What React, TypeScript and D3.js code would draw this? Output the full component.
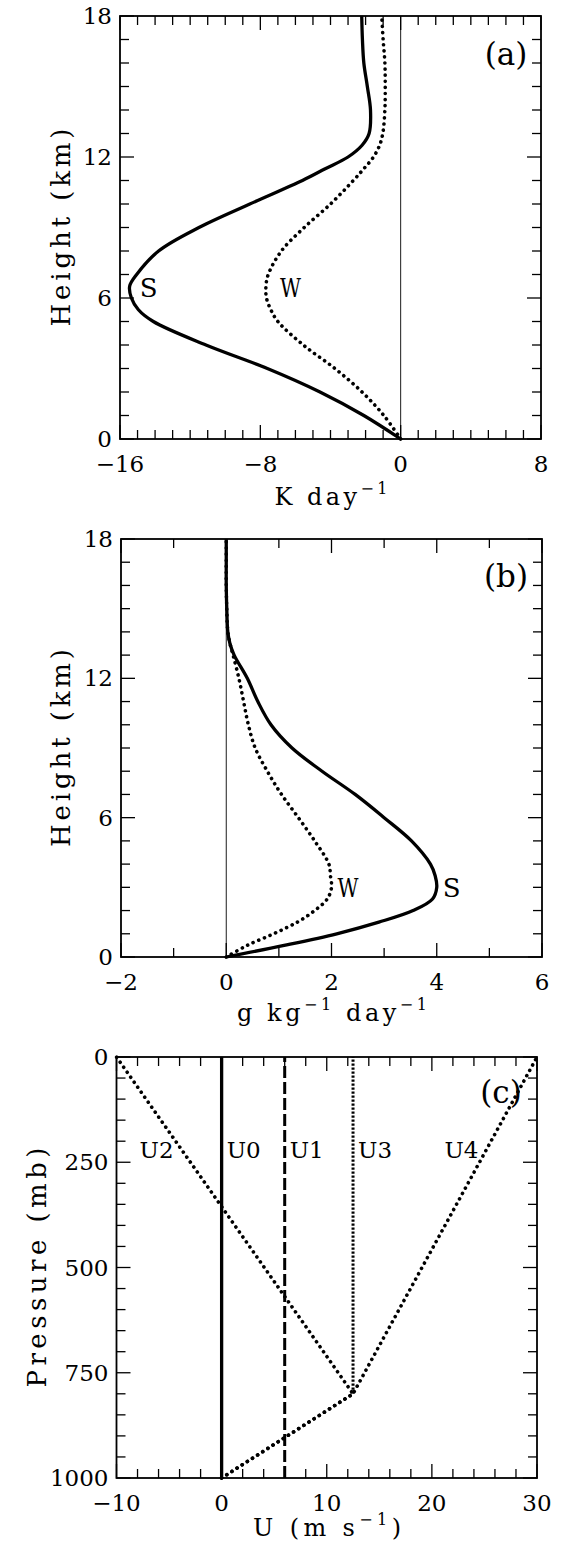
import React from 'react';
import * as d3 from 'd3';

const FONT = "'DejaVu Serif', 'Liberation Serif', serif";

// ---------- Panel (a): heating (K day^-1) vs height (km)
const heightsA = [0, 1, 2, 3, 4, 5, 5.5, 6, 6.5, 7, 8, 9, 10, 11, 11.5, 12, 12.5, 13, 14, 15, 16, 17, 18];
const heatingS = [0, -2.1, -4.6, -7.6, -11.1, -14.1, -14.95, -15.35, -15.45, -15.05, -13.8, -11.5, -8.6, -5.6, -4.3, -3.0, -2.2, -1.8, -1.72, -1.9, -2.1, -2.18, -2.22];
const heatingW = [0, -0.96, -2.2, -3.75, -5.55, -7.0, -7.4, -7.65, -7.68, -7.55, -6.8, -5.5, -4.0, -2.7, -2.1, -1.55, -1.2, -1.02, -0.9, -0.88, -0.9, -1.0, -1.08];

// ---------- Panel (b): moistening (g kg^-1 day^-1) vs height (km)
const heightsB = [0, 0.5, 1, 1.5, 2, 2.5, 3, 3.5, 4, 5, 6, 7, 8, 9, 10, 11, 12, 13, 13.5, 14, 15, 16, 17, 18];
const moistS = [0, 1.1, 2.1, 2.9, 3.55, 3.92, 4.0, 3.97, 3.88, 3.52, 3.0, 2.45, 1.82, 1.25, 0.85, 0.6, 0.4, 0.15, 0.07, 0.03, 0.01, 0, 0, 0];
const moistW = [0, 0.4, 0.9, 1.35, 1.68, 1.92, 2.0, 1.98, 1.95, 1.68, 1.37, 1.05, 0.78, 0.55, 0.42, 0.33, 0.24, 0.13, 0.07, 0.03, 0.01, 0, 0, 0];

// ---------- Panel (c): wind U (m s^-1) vs pressure (mb)
const pressureC = [0, 800, 1000];
const windU0 = [0, 0, 0];
const windU1 = [6, 6, 6];
const windU2 = [-10, 12.5, 0];
const windU3 = [12.5, 12.5, 0];
const windU4 = [30, 12.5, 0];

const ticksAx = [-16, -8, 0, 8];
const ticksAy = [0, 6, 12, 18];
const ticksBx = [-2, 0, 2, 4, 6];
const ticksBy = [0, 6, 12, 18];
const ticksCx = [-10, 0, 10, 20, 30];
const ticksCy = [0, 250, 500, 750, 1000];

type Frame = { l: number; r: number; t: number; b: number };

const fmt = (v: number) => (v < 0 ? '\u2212' + Math.abs(v) : String(v));

function isMajor(v: number, step: number) {
  return Math.abs(v / step - Math.round(v / step)) < 1e-6;
}

function Axes(props: {
  f: Frame;
  x: d3.ScaleLinear<number, number>;
  y: d3.ScaleLinear<number, number>;
  xMinor: number; xMajor: number; yMinor: number; yMajor: number;
  xLabels: number[]; yLabels: number[];
}) {
  const { f, x, y, xMinor, xMajor, yMinor, yMajor, xLabels, yLabels } = props;
  const [xd0, xd1] = x.domain();
  const [yd0, yd1] = y.domain();
  const xs = d3.range(Math.min(xd0, xd1), Math.max(xd0, xd1) + 1e-6, xMinor);
  const ys = d3.range(Math.min(yd0, yd1), Math.max(yd0, yd1) + 1e-6, yMinor);
  const minorL = 9, majorL = 14;
  const els: any[] = [];
  xs.forEach((v, i) => {
    const L = isMajor(v, xMajor) ? majorL : minorL;
    const px = x(v);
    els.push(<line key={'xb' + i} x1={px} x2={px} y1={f.b} y2={f.b - L} />);
    els.push(<line key={'xt' + i} x1={px} x2={px} y1={f.t} y2={f.t + L} />);
  });
  ys.forEach((v, i) => {
    const L = isMajor(v, yMajor) ? majorL : minorL;
    const py = y(v);
    els.push(<line key={'yl' + i} x1={f.l} x2={f.l + L} y1={py} y2={py} />);
    els.push(<line key={'yr' + i} x1={f.r} x2={f.r - L} y1={py} y2={py} />);
  });
  return (
    <g>
      <g stroke="#000" strokeWidth={1.3}>{els}</g>
      <rect x={f.l} y={f.t} width={f.r - f.l} height={f.b - f.t} fill="none" stroke="#000" strokeWidth={1.8} />
      <g fontFamily={FONT} fontSize={23} fill="#000">
        {xLabels.map((v) => (
          <text key={'xl' + v} x={x(v)} y={f.b + 33} textAnchor="middle">{fmt(v)}</text>
        ))}
        {yLabels.map((v) => (
          <text key={'ylb' + v} x={f.l - 8} y={y(v) + 8} textAnchor="end">{fmt(v)}</text>
        ))}
      </g>
    </g>
  );
}

function pairs(xs: number[], ys: number[]): [number, number][] {
  return xs.map((v, i) => [v, ys[i]] as [number, number]);
}

const dotted = { strokeWidth: 3.6, strokeDasharray: '0.1 6', strokeLinecap: 'round' as const };

export default function App() {
  // Panel frames
  const fA: Frame = { l: 120, r: 541, t: 16, b: 439 };
  const fB: Frame = { l: 121, r: 542, t: 539, b: 957 };
  const fC: Frame = { l: 116.5, r: 537, t: 1057, b: 1478 };

  const xA = d3.scaleLinear().domain([-16, 8]).range([fA.l, fA.r]);
  const yA = d3.scaleLinear().domain([0, 18]).range([fA.b, fA.t]);
  const xB = d3.scaleLinear().domain([-2, 6]).range([fB.l, fB.r]);
  const yB = d3.scaleLinear().domain([0, 18]).range([fB.b, fB.t]);
  const xC = d3.scaleLinear().domain([-10, 30]).range([fC.l, fC.r]);
  const yC = d3.scaleLinear().domain([0, 1000]).range([fC.t, fC.b]);

  const lineA = d3.line<[number, number]>().x((d) => xA(d[0])).y((d) => yA(d[1])).curve(d3.curveCatmullRom.alpha(0.5));
  const lineB = d3.line<[number, number]>().x((d) => xB(d[0])).y((d) => yB(d[1])).curve(d3.curveCatmullRom.alpha(0.5));
  const lineC = d3.line<[number, number]>().x((d) => xC(d[0])).y((d) => yC(d[1]));
  // draw wind profiles from the surface up so shared lower segments share dot phase
  const upC = (u: number[]) => lineC(pairs(u, pressureC).reverse()) || '';

  // extreme points for curve labels
  const iSa = d3.minIndex(heatingS);
  const iWa = d3.minIndex(heatingW);
  const iSb = d3.maxIndex(moistS);
  const iWb = d3.maxIndex(moistW);

  const uLabelP = 220;
  const uAt = (u: number[], p: number) => d3.scaleLinear().domain(pressureC).range(u)(p);
  const kinkP = pressureC[1];

  return (
    <svg width={568} height={1545} style={{ position: 'absolute', left: 0, top: 0, background: '#fff' }}>
      <defs>
        <clipPath id="aboveKink">
          <rect x={fC.l} y={fC.t} width={fC.r - fC.l} height={yC(kinkP) - fC.t} />
        </clipPath>
      </defs>
      <rect width={568} height={1545} fill="#fff" />

      {/* ---------- Panel (a) ---------- */}
      <line x1={xA(0)} x2={xA(0)} y1={fA.t} y2={fA.b} stroke="#000" strokeWidth={0.9} />
      <path d={lineA(pairs(heatingS, heightsA)) || ''} fill="none" stroke="#000" strokeWidth={3.3} />
      <path d={lineA(pairs(heatingW, heightsA)) || ''} fill="none" stroke="#000" {...dotted} />
      <Axes f={fA} x={xA} y={yA} xMinor={1} xMajor={8} yMinor={1} yMajor={6} xLabels={ticksAx} yLabels={ticksAy} />
      <g fontFamily={FONT} fontSize={26} fill="#000">
        <text x={xA(heatingS[iSa]) + 10} y={yA(heightsA[iSa]) + 11}>S</text>
        <text x={xA(heatingW[iWa]) + 14} y={yA(heightsA[iWa]) + 11} textLength={21} lengthAdjust="spacingAndGlyphs">W</text>
      </g>
      <text x={506} y={65} fontFamily={FONT} fontSize={31} textAnchor="middle">(a)</text>
      <text x={331} y={505} fontFamily={FONT} fontSize={24} textAnchor="middle" textLength={113} lengthAdjust="spacing">
        K day<tspan fontSize={16} dy={-11}>{'\u2212'}1</tspan>
      </text>
      <text transform={`translate(70,${(fA.t + fA.b) / 2}) rotate(-90)`} fontFamily={FONT} fontSize={26} textAnchor="middle" textLength={198} lengthAdjust="spacing">
        Height (km)
      </text>

      {/* ---------- Panel (b) ---------- */}
      <line x1={xB(0)} x2={xB(0)} y1={fB.t} y2={fB.b} stroke="#000" strokeWidth={0.9} />
      <path d={lineB(pairs(moistS, heightsB)) || ''} fill="none" stroke="#000" strokeWidth={3.3} />
      <path d={lineB(pairs(moistW, heightsB)) || ''} fill="none" stroke="#000" {...dotted} />
      <Axes f={fB} x={xB} y={yB} xMinor={1} xMajor={2} yMinor={1} yMajor={6} xLabels={ticksBx} yLabels={ticksBy} />
      <g fontFamily={FONT} fontSize={26} fill="#000">
        <text x={xB(moistS[iSb]) + 6} y={yB(heightsB[iSb]) + 10}>S</text>
        <text x={xB(moistW[iWb]) + 6} y={yB(heightsB[iWb]) + 10} textLength={21} lengthAdjust="spacingAndGlyphs">W</text>
      </g>
      <text x={506} y={587} fontFamily={FONT} fontSize={31} textAnchor="middle">(b)</text>
      <text x={332} y={1021} fontFamily={FONT} fontSize={24} textAnchor="middle" textLength={190} lengthAdjust="spacing">
        g kg<tspan fontSize={16} dy={-11}>{'\u2212'}1</tspan><tspan dy={11}> day</tspan><tspan fontSize={16} dy={-11}>{'\u2212'}1</tspan>
      </text>
      <text transform={`translate(70,${(fB.t + fB.b) / 2}) rotate(-90)`} fontFamily={FONT} fontSize={26} textAnchor="middle" textLength={198} lengthAdjust="spacing">
        Height (km)
      </text>

      {/* ---------- Panel (c) ---------- */}
      <path d={upC(windU0)} fill="none" stroke="#000" strokeWidth={3.3} />
      <path d={upC(windU1)} fill="none" stroke="#000" strokeWidth={3} strokeDasharray="12 4" />
      <path d={upC(windU3)} fill="none" stroke="#000" strokeWidth={3} strokeDasharray="2.4 1.6" clipPath="url(#aboveKink)" />
      <path d={upC(windU2)} fill="none" stroke="#000" {...dotted} />
      <path d={upC(windU4)} fill="none" stroke="#000" {...dotted} />
      <Axes f={fC} x={xC} y={yC} xMinor={2} xMajor={10} yMinor={50} yMajor={250} xLabels={ticksCx} yLabels={ticksCy} />
      <g fontFamily={FONT} fontSize={23} fill="#000">
        <text x={xC(uAt(windU2, uLabelP)) - 8} y={yC(uLabelP) + 8} textAnchor="end">U2</text>
        <text x={xC(uAt(windU0, uLabelP)) + 5} y={yC(uLabelP) + 8}>U0</text>
        <text x={xC(uAt(windU1, uLabelP)) + 5} y={yC(uLabelP) + 8}>U1</text>
        <text x={xC(uAt(windU3, uLabelP)) + 5} y={yC(uLabelP) + 8}>U3</text>
        <text x={xC(uAt(windU4, uLabelP)) - 8} y={yC(uLabelP) + 8} textAnchor="end">U4</text>
      </g>
      <text x={501} y={1103} fontFamily={FONT} fontSize={31} textAnchor="middle">(c)</text>
      <text x={327} y={1536} fontFamily={FONT} fontSize={24} textAnchor="middle" textLength={148} lengthAdjust="spacing">
        U (m s<tspan fontSize={16} dy={-11}>{'\u2212'}1</tspan><tspan dy={11}>)</tspan>
      </text>
      <text transform={`translate(46,${(fC.t + fC.b) / 2}) rotate(-90)`} fontFamily={FONT} fontSize={26} textAnchor="middle" textLength={240} lengthAdjust="spacing">
        Pressure (mb)
      </text>
    </svg>
  );
}
